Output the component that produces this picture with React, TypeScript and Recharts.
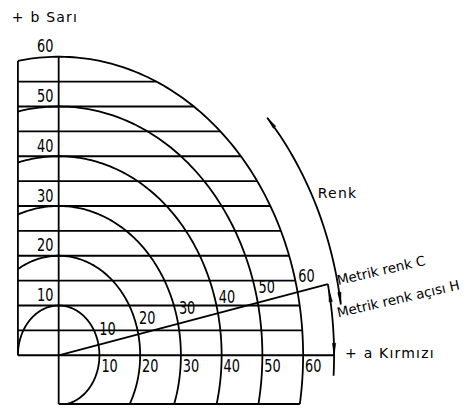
import React from 'react';
import { ComposedChart, Line, Scatter, XAxis, YAxis } from 'recharts';

// ---- values ----
const chromaRadii = [10, 20, 30, 40, 50, 60];
const bGridLevels = [5, 10, 15, 20, 25, 30, 35, 40, 45, 50, 55];
const bAxisLabels = ['10', '20', '30', '40', '50', '60'];
const aAxisLabels = ['10', '20', '30', '40', '50', '60'];
const hueLineLabels = ['10', '20', '30', '40', '50', '60'];
const metricChroma = 67.6;
const metricHueDeg = 12.2;
const hueArcStartDeg = -3.5;
const hueArrowDeg = [0, 11.2];
const renkArcRadius = 70;
const renkArcDeg = [8.4, 43];
const boxLeftA = -10;
const boxBottomB = -9.8;
const outerRadius = 60;

const axisTitleB = '+ b Sarı';
const axisTitleA = '+ a Kırmızı';
const renkTitle = 'Renk';
const chromaTitle = 'Metrik renk C';
const hueTitle = 'Metrik renk açısı H';

const W = 473;
const H = 409;
const X_DOMAIN: [number, number] = [-14.4, 101.7];
const Y_DOMAIN: [number, number] = [-10.8, 71.4];
const SX = W / (X_DOMAIN[1] - X_DOMAIN[0]);
const SY = H / (Y_DOMAIN[1] - Y_DOMAIN[0]);

const rad = (d: number) => (d * Math.PI) / 180;
const deg = (r: number) => (r * 180) / Math.PI;

function arc(r: number, d0: number, d1: number) {
  const pts: { x: number; y: number }[] = [];
  const n = Math.max(2, Math.ceil(Math.abs(d1 - d0)));
  for (let i = 0; i <= n; i++) {
    const d = d0 + ((d1 - d0) * i) / n;
    pts.push({ x: r * Math.cos(rad(d)), y: r * Math.sin(rad(d)) });
  }
  return pts;
}

// ---- geometry built from the values ----
const segments: { x: number; y: number }[][] = [];
chromaRadii.forEach((r) => {
  const d0 = -deg(Math.asin(Math.min(1, -boxBottomB / r)));
  const d1 = deg(Math.acos(Math.max(-1, boxLeftA / r)));
  segments.push(arc(r, d0, d1));
});
bGridLevels.forEach((b) => {
  segments.push([
    { x: boxLeftA, y: b },
    { x: Math.sqrt(outerRadius * outerRadius - b * b), y: b },
  ]);
});
segments.push([
  { x: boxLeftA, y: 0 },
  { x: metricChroma + 0.2, y: 0 },
]);
segments.push([
  { x: 0, y: boxBottomB },
  { x: 0, y: outerRadius },
]);
segments.push([
  { x: boxLeftA, y: 0 },
  { x: boxLeftA, y: Math.sqrt(outerRadius * outerRadius - boxLeftA * boxLeftA) },
]);
segments.push([
  { x: 0, y: boxBottomB },
  { x: Math.sqrt(outerRadius * outerRadius - boxBottomB * boxBottomB), y: boxBottomB },
]);
segments.push([
  { x: 0, y: 0 },
  { x: metricChroma * Math.cos(rad(metricHueDeg)), y: metricChroma * Math.sin(rad(metricHueDeg)) },
]);
segments.push(arc(metricChroma, hueArcStartDeg, metricHueDeg));
segments.push(arc(renkArcRadius, renkArcDeg[0], renkArcDeg[1]));

// arrow tips on arcs: dir +1 = counter-clockwise, -1 = clockwise (pixel direction via the axis scales)
function arrowAt(r: number, d: number, dir: number) {
  const t = rad(d);
  return {
    x: r * Math.cos(t),
    y: r * Math.sin(t),
    ux: -Math.sin(t) * SX * dir,
    uy: -Math.cos(t) * SY * dir,
  };
}
const arrows = [
  arrowAt(renkArcRadius, renkArcDeg[1], 1),
  arrowAt(renkArcRadius, renkArcDeg[0], -1),
  arrowAt(metricChroma, hueArrowDeg[1], 1),
  arrowAt(metricChroma, hueArrowDeg[0], -1),
];

const numberLabels = [
  ...bAxisLabels.map((t, i) => ({ x: -3.3, y: chromaRadii[i] + 2, label: t })),
  ...aAxisLabels.map((t, i) => ({ x: chromaRadii[i] + 2.5, y: -2.2, label: t })),
  ...hueLineLabels.map((t, i) => ({
    x: chromaRadii[i] * Math.cos(rad(metricHueDeg)) + 2.2,
    y: chromaRadii[i] * Math.sin(rad(metricHueDeg)) + 3.1,
    label: t,
  })),
];

const wordLabels = [
  { x: -11.5, y: 68.0, label: axisTitleB },
  { x: 70.3, y: 0.45, label: axisTitleA },
  { x: 63.6, y: 32.6, label: renkTitle },
];

const slantedLabels = [
  { x: 68.6, y: 14.1, label: chromaTitle },
  { x: 68.6, y: 7.6, label: hueTitle },
];

const FONT = 'DejaVu Sans';

const NumberShape = (p: any) => (
  <text
    x={0}
    y={0}
    textAnchor="middle"
    dominantBaseline="central"
    fontFamily={FONT}
    fontSize={17}
    fill="#000"
    transform={`translate(${p.cx} ${p.cy}) scale(0.76 1)`}
  >
    {p.payload.label}
  </text>
);
const WordShape = (p: any) => (
  <text x={p.cx} y={p.cy} textAnchor="start" dominantBaseline="central" fontFamily={FONT} fontSize={14} letterSpacing={1.2} fill="#000">
    {p.payload.label}
  </text>
);
const SlantShape = (p: any) => (
  <text
    x={p.cx}
    y={p.cy}
    textAnchor="start"
    fontFamily={FONT}
    fontSize={13.5}
    fill="#000"
    transform={`rotate(-13 ${p.cx} ${p.cy})`}
  >
    {p.payload.label}
  </text>
);
const ArrowShape = (p: any) => {
  const { cx, cy, payload } = p;
  const len = Math.hypot(payload.ux, payload.uy) || 1;
  const ux = payload.ux / len;
  const uy = payload.uy / len;
  const L = 12;
  const w = 1.6;
  const bx = cx - ux * L;
  const by = cy - uy * L;
  const pts = `${cx},${cy} ${bx - uy * w},${by + ux * w} ${bx + uy * w},${by - ux * w}`;
  return <polygon points={pts} fill="#000" stroke="#000" strokeWidth={0.6} />;
};

export default function App() {
  return (
    <div style={{ position: 'absolute', left: 0, top: 0, width: W, height: H, background: '#fff' }}>
      <ComposedChart width={W} height={H} margin={{ top: 0, right: 0, bottom: 0, left: 0 }}>
        <XAxis type="number" dataKey="x" domain={X_DOMAIN} allowDataOverflow hide />
        <YAxis type="number" dataKey="y" domain={Y_DOMAIN} allowDataOverflow hide />
        {segments.map((seg, i) => (
          <Line
            key={`p${i}`}
            data={seg}
            dataKey="y"
            type="linear"
            stroke="#000"
            strokeWidth={1.8}
            dot={false}
            activeDot={false}
            isAnimationActive={false}
          />
        ))}
        <Scatter data={arrows} shape={ArrowShape} isAnimationActive={false} />
        <Scatter data={numberLabels} shape={NumberShape} isAnimationActive={false} />
        <Scatter data={wordLabels} shape={WordShape} isAnimationActive={false} />
        <Scatter data={slantedLabels} shape={SlantShape} isAnimationActive={false} />
      </ComposedChart>
    </div>
  );
}
